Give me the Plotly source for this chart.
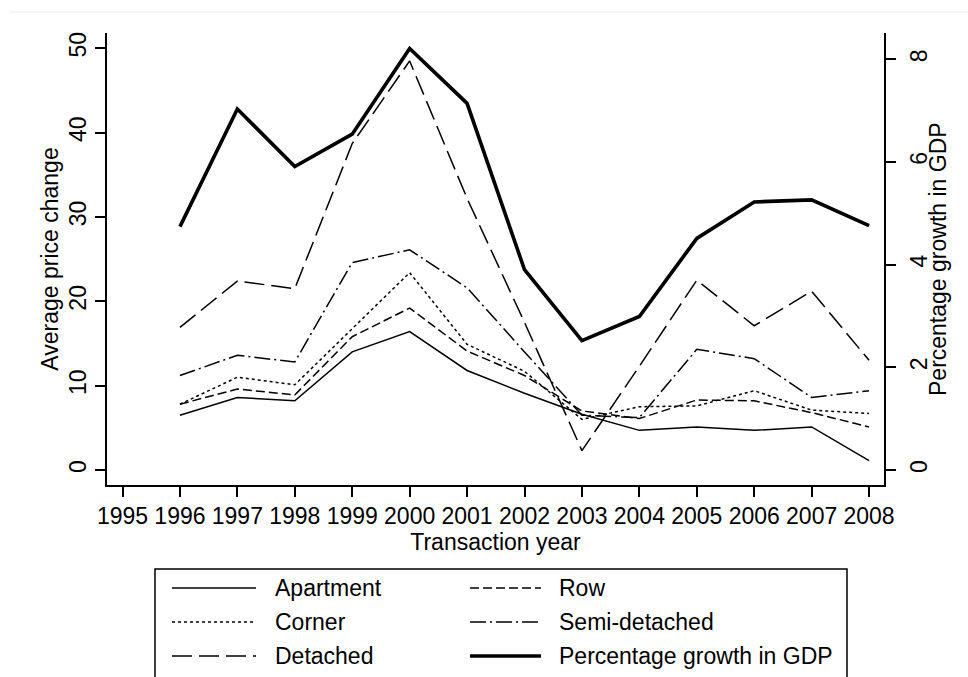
import plotly.graph_objects as go

# Transaction years and axis tick labels
years = [1996, 1997, 1998, 1999, 2000, 2001, 2002, 2003, 2004, 2005, 2006, 2007, 2008]
year_ticks = list(range(1995, 2009))
price_ticks = [0, 10, 20, 30, 40, 50]
gdp_ticks = [0, 2, 4, 6, 8]

# Average price change by dwelling type
apartment = [6.5, 8.6, 8.2, 14.0, 16.4, 11.8, 9.1, 6.6, 4.7, 5.1, 4.7, 5.1, 1.1]
row_house = [7.8, 9.6, 8.9, 15.8, 19.2, 14.1, 11.2, 7.0, 6.1, 8.3, 8.2, 6.8, 5.1]
corner = [7.8, 11.0, 10.1, 16.8, 23.4, 14.9, 11.7, 6.0, 7.5, 7.6, 9.4, 7.1, 6.7]
semi_detached = [11.2, 13.6, 12.8, 24.6, 26.1, 21.6, 14.0, 6.5, 6.2, 14.3, 13.2, 8.6, 9.4]
detached = [16.9, 22.4, 21.5, 38.7, 48.5, 32.2, 17.5, 2.3, 12.3, 22.5, 17.1, 21.2, 13.0]

# Percentage growth in GDP (right axis)
gdp_growth = [4.74, 7.03, 5.91, 6.54, 8.21, 7.14, 3.90, 2.52, 2.99, 4.51, 5.22, 5.26, 4.76]

FONT = "Liberation Sans, Arial, sans-serif"
W, H = 968, 677
PLOT_L, PLOT_R, PLOT_T, PLOT_B = 107, 884, 33, 485


def fx(x):
    """Pixel column -> paper x."""
    return (x - PLOT_L) / (PLOT_R - PLOT_L)


def fy(y):
    """Pixel row -> paper y."""
    return (PLOT_B - y) / (PLOT_B - PLOT_T)


series = [
    ("Apartment", apartment, "solid", 1.5, "y"),
    ("Row", row_house, "9px,4px", 1.5, "y"),
    ("Corner", corner, "3px,3px", 1.5, "y"),
    ("Semi-detached", semi_detached, "16px,4px,2px,4px", 1.5, "y"),
    ("Detached", detached, "20px,7px", 1.5, "y"),
    ("Percentage growth in GDP", gdp_growth, "solid", 3.6, "y2"),
]

fig = go.Figure()
for name, vals, dash, width, yax in series:
    fig.add_trace(go.Scatter(
        x=years, y=vals, name=name, mode="lines", yaxis=yax,
        line=dict(color="black", width=width, dash=dash),
        showlegend=False,
    ))

axis_common = dict(
    showgrid=False, zeroline=False, showline=True, linecolor="black",
    linewidth=1.5, ticks="outside", ticklen=10, tickwidth=1.5,
    tickcolor="black", tickfont=dict(family=FONT, size=23, color="black"),
)

fig.update_layout(
    width=W, height=H,
    margin=dict(l=PLOT_L, r=W - PLOT_R, t=PLOT_T, b=H - PLOT_B),
    paper_bgcolor="white", plot_bgcolor="white",
    font=dict(family=FONT, color="black"),
    xaxis=dict(
        range=[1994.73, 2008.26], tickmode="array", tickvals=year_ticks,
        ticktext=[str(t) for t in year_ticks],
        title=dict(text="Transaction year", font=dict(family=FONT, size=23), standoff=2),
        **axis_common,
    ),
    yaxis=dict(
        range=[-1.78, 51.81], tickmode="array", tickvals=price_ticks,
        tickangle=-90,
        title=dict(text="Average price change", font=dict(family=FONT, size=23), standoff=0),
        **axis_common,
    ),
    yaxis2=dict(
        range=[-0.292, 8.51], tickmode="array", tickvals=gdp_ticks,
        tickangle=-90, overlaying="y", side="right", ticklabelstandoff=4,
        **axis_common,
    ),
)

# Right-hand axis title
fig.add_annotation(xref="paper", yref="paper", x=fx(938), y=0.5,
                   text="Percentage growth in GDP", showarrow=False, textangle=-90,
                   xanchor="center", yanchor="middle",
                   font=dict(family=FONT, size=23, color="black"))

# Faint rule across the top of the page
fig.add_shape(type="line", xref="paper", yref="paper",
              x0=fx(10), x1=fx(968), y0=fy(12), y1=fy(12),
              line=dict(color="#ececec", width=1))

# Legend box (runs off the bottom of the page)
fig.add_shape(type="rect", xref="paper", yref="paper",
              x0=fx(155), x1=fx(847), y0=fy(569), y1=fy(720),
              line=dict(color="black", width=1.5), fillcolor="white", layer="above")

legend_rows = [588, 622, 656]
col_sample = [(172, 256), (470, 541)]
col_text = [273, 557]
for i, (name, _vals, dash, width, _yax) in enumerate(series):
    r, c = divmod(i, 2)
    yy = fy(legend_rows[r])
    x0, x1 = col_sample[c]
    fig.add_shape(type="line", xref="paper", yref="paper",
                  x0=fx(x0), x1=fx(x1), y0=yy, y1=yy,
                  line=dict(color="black", width=width, dash=dash), layer="above")
    fig.add_annotation(xref="paper", yref="paper", x=fx(col_text[c]), y=yy,
                       text=name, showarrow=False, xanchor="left", yanchor="middle",
                       font=dict(family=FONT, size=23, color="black"))

fig.write_html("out.html")
